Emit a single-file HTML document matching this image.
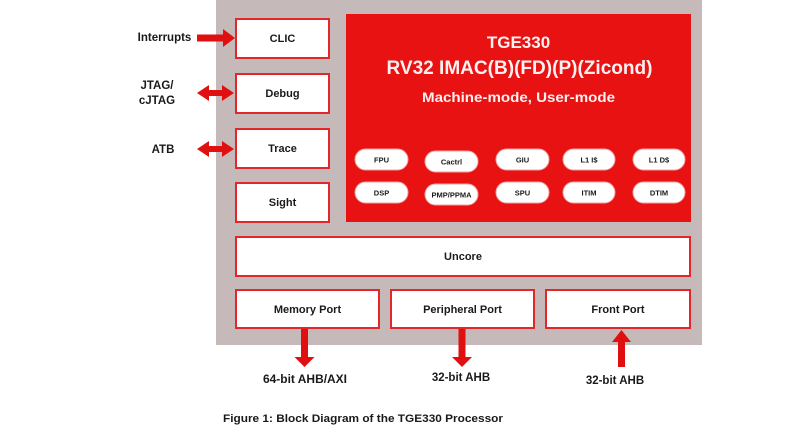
<!DOCTYPE html>
<html>
<head>
<meta charset="utf-8">
<style>
  html,body{margin:0;padding:0;background:#fff;}
  body{width:800px;height:426px;overflow:hidden;}
  svg{display:block;}
  text{font-family:"Liberation Sans",sans-serif;font-weight:bold;}
</style>
</head>
<body>
<svg width="800" height="426" viewBox="0 0 800 426" xmlns="http://www.w3.org/2000/svg">
  <!-- gray background -->
  <rect x="216" y="0" width="486" height="345" fill="#c5b9ba"/>

  <!-- left boxes -->
  <g fill="#ffffff" stroke="#e3262a" stroke-width="2">
    <rect x="236" y="19" width="93" height="39"/>
    <rect x="236" y="74" width="93" height="39"/>
    <rect x="236" y="129" width="93" height="39"/>
    <rect x="236" y="183" width="93" height="39"/>
    <rect x="236" y="237" width="454" height="39"/>
    <rect x="236" y="290" width="143" height="38"/>
    <rect x="391" y="290" width="143" height="38"/>
    <rect x="546" y="290" width="144" height="38"/>
  </g>
  <g font-size="11" fill="#1a1a1a" text-anchor="middle">
    <text x="282.5" y="42">CLIC</text>
    <text x="282.5" y="97">Debug</text>
    <text x="282.5" y="152">Trace</text>
    <text x="282.5" y="206">Sight</text>
    <text x="463" y="260">Uncore</text>
    <text x="307.5" y="313">Memory Port</text>
    <text x="462.5" y="313">Peripheral Port</text>
    <text x="618" y="313">Front Port</text>
  </g>

  <!-- red core box -->
  <rect x="346" y="14" width="345" height="208" fill="#e81212"/>
  <g fill="#fdf0f0" text-anchor="middle">
    <text x="518.5" y="48" font-size="17">TGE330</text>
    <text x="519.5" y="74" font-size="19" textLength="266" lengthAdjust="spacingAndGlyphs">RV32 IMAC(B)(FD)(P)(Zicond)</text>
    <text x="518.5" y="102" font-size="14" textLength="193" lengthAdjust="spacingAndGlyphs">Machine-mode, User-mode</text>
  </g>

  <!-- pills -->
  <g fill="#ffffff" stroke="#f3a0a0" stroke-width="1">
    <rect x="355" y="149" width="53" height="21" rx="10.5"/>
    <rect x="425" y="151" width="53" height="21" rx="10.5"/>
    <rect x="496" y="149" width="53" height="21" rx="10.5"/>
    <rect x="563" y="149" width="52" height="21" rx="10.5"/>
    <rect x="633" y="149" width="52" height="21" rx="10.5"/>
    <rect x="355" y="182" width="53" height="21" rx="10.5"/>
    <rect x="425" y="184" width="53" height="21" rx="10.5"/>
    <rect x="496" y="182" width="53" height="21" rx="10.5"/>
    <rect x="563" y="182" width="52" height="21" rx="10.5"/>
    <rect x="633" y="182" width="52" height="21" rx="10.5"/>
  </g>
  <g font-size="7.5" fill="#1a1a1a" text-anchor="middle">
    <text x="381.5" y="162.5">FPU</text>
    <text x="451.5" y="164.5">Cactrl</text>
    <text x="522.5" y="162.5">GIU</text>
    <text x="589" y="162.5">L1 I$</text>
    <text x="659" y="162.5">L1 D$</text>
    <text x="381.5" y="195.5">DSP</text>
    <text x="451.5" y="197.5">PMP/PPMA</text>
    <text x="522.5" y="195.5">SPU</text>
    <text x="589" y="195.5">ITIM</text>
    <text x="659" y="195.5">DTIM</text>
  </g>

  <!-- arrows -->
  <g fill="#e01010">
    <polygon points="197,34.5 223,34.5 223,29 235,38 223,47 223,41.5 197,41.5"/>
    <polygon points="197,93 209,85 209,90 222,90 222,85 234,93 222,101 222,96 209,96 209,101"/>
    <polygon points="197,149 209,141 209,146 222,146 222,141 234,149 222,157 222,152 209,152 209,157"/>
    <polygon points="301,329 308,329 308,357 314.5,357 304.5,367 294.5,357 301,357"/>
    <polygon points="458.5,329 465.5,329 465.5,357 472,357 462,367 452,357 458.5,357"/>
    <polygon points="618,367 625,367 625,342 631,342 621.5,330 612,342 618,342"/>
  </g>

  <!-- external labels -->
  <g font-size="11.5" fill="#1a1a1a" text-anchor="middle">
    <text x="164.5" y="41">Interrupts</text>
    <text x="157" y="89">JTAG/</text>
    <text x="157" y="104">cJTAG</text>
    <text x="163" y="153">ATB</text>
  </g>
  <g font-size="11.5" fill="#1a1a1a" text-anchor="middle">
    <text x="305" y="383" textLength="84" lengthAdjust="spacingAndGlyphs">64-bit AHB/AXI</text>
    <text x="461" y="381">32-bit AHB</text>
    <text x="615" y="384">32-bit AHB</text>
  </g>

  <text x="223" y="422" font-size="11" fill="#1a1a1a" textLength="280" lengthAdjust="spacingAndGlyphs">Figure 1: Block Diagram of the TGE330 Processor</text>
</svg>
</body>
</html>
